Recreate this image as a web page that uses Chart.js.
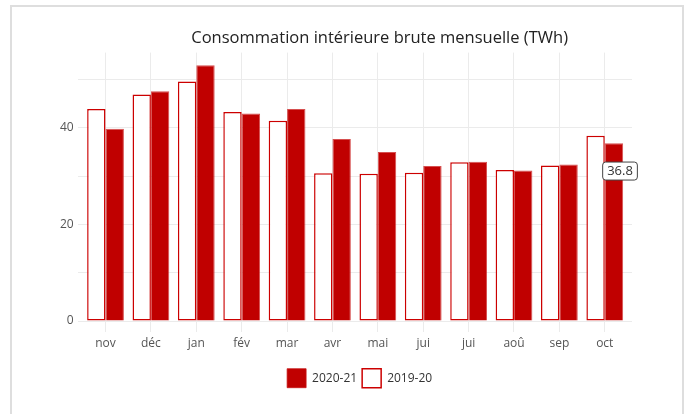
<!DOCTYPE html>
<html>
<head>
<meta charset="utf-8">
<script src="https://cdn.jsdelivr.net/npm/chart.js@4/dist/chart.umd.min.js"></script>
<style>
  body { margin: 0; background: #fff; }
  #frame { position: absolute; left: 10px; top: 5px; width: 670px; height: 410px; border: 2px solid #dedede; background: #fff; }
  canvas { display: block; }
</style>
</head>
<body>
<div id="frame"><canvas id="myChart" width="670" height="410"></canvas></div>
<script>
// monthly data, nov -> oct
let months = ['nov', 'déc', 'jan', 'fév', 'mar', 'avr', 'mai', 'jui', 'jui', 'aoû', 'sep', 'oct'];
let values2019 = [43.9, 46.9, 49.6, 43.3, 41.5, 30.6, 30.5, 30.7, 32.9, 31.3, 32.2, 38.4];
let values2020 = [39.8, 47.6, 53.0, 43.0, 43.9, 37.7, 35.0, 32.1, 33.0, 31.2, 32.4, 36.8];
let hoverIndex = 11;

Chart.defaults.font.family = "'Open Sans', sans-serif";
Chart.defaults.color = '#555';

function toPoints(values) {
  return values.map((v, i) => ({x: i, y: v}));
}

// moves title and legend to where plotly put them
let blockShift = {
  id: 'blockShift',
  afterLayout(chart) {
    let t = chart.titleBlock;
    t.left += 24.5;
    t.right += 24.5;
    let l = chart.legend;
    l.left += 4.5;
    l.right += 4.5;
  }
};

// the little hover box on the last bar
let hoverBox = {
  id: 'hoverBox',
  afterDatasetsDraw(chart) {
    let el = chart.getDatasetMeta(1).data[hoverIndex];
    let ctx = chart.ctx;
    let txt = values2020[hoverIndex].toFixed(1);
    ctx.save();
    ctx.font = "13px 'Open Sans'";
    let w = ctx.measureText(txt).width + 9;
    let h = 18;
    let left = el.x - 11.8;
    let top = el.y + 27.2 - h / 2;
    ctx.beginPath();
    ctx.roundRect(left + 0.5, top + 0.5, w, h, 3);
    ctx.fillStyle = '#fff';
    ctx.fill();
    ctx.strokeStyle = '#444';
    ctx.lineWidth = 1;
    ctx.stroke();
    ctx.fillStyle = '#333';
    ctx.textBaseline = 'middle';
    ctx.fillText(txt, left + 5, top + h / 2 + 1);
    ctx.restore();
  }
};

new Chart('myChart', {
  type: 'bar',
  data: {
    datasets: [
      {
        label: '2019-20',
        data: toPoints(values2019),
        backgroundColor: '#ffffff',
        borderColor: '#cc0000',
        borderWidth: 1.5,
        borderSkipped: false
      },
      {
        label: '2020-21',
        data: toPoints(values2020),
        backgroundColor: '#c00000',
        borderColor: 'rgba(200,20,20,0.75)',
        borderWidth: 1
      }
    ]
  },
  options: {
    responsive: false,
    animation: false,
    categoryPercentage: 0.81,
    barPercentage: 1.0,
    layout: { padding: { left: 0, right: 50, top: 0, bottom: 19.3 } },
    plugins: {
      title: {
        display: true,
        text: 'Consommation intérieure brute mensuelle (TWh)',
        fullSize: false,
        color: '#222',
        font: { size: 16.5, weight: 'normal' },
        padding: { top: 21.8, bottom: 4 }
      },
      legend: {
        position: 'bottom',
        fullSize: false,
        reverse: true,
        labels: {
          boxWidth: 19,
          boxHeight: 19,
          padding: 5,
          color: '#333',
          font: { size: 12 }
        }
      },
      tooltip: { enabled: false }
    },
    scales: {
      x: {
        type: 'linear',
        offset: false,
        min: -0.6,
        max: 11.6,
        afterFit(scale) { scale.height = 42.7; },
        border: { display: false },
        grid: { color: '#ebebeb', tickLength: 11, offset: false },
        ticks: {
          stepSize: 1,
          includeBounds: false,
          padding: 4.5,
          font: { size: 12 },
          color: '#555',
          callback: v => months[v]
        }
      },
      y: {
        min: 0,
        max: 55.6,
        afterFit(scale) { scale.width = 66.3; },
        border: { display: false },
        grid: { color: '#ebebeb', drawTicks: false },
        ticks: {
          stepSize: 10,
          includeBounds: false,
          padding: 4.6,
          font: { size: 12 },
          color: '#555',
          callback: v => (v % 20 === 0 ? v : '')
        }
      }
    }
  },
  plugins: [blockShift, hoverBox]
});
</script>
</body>
</html>
